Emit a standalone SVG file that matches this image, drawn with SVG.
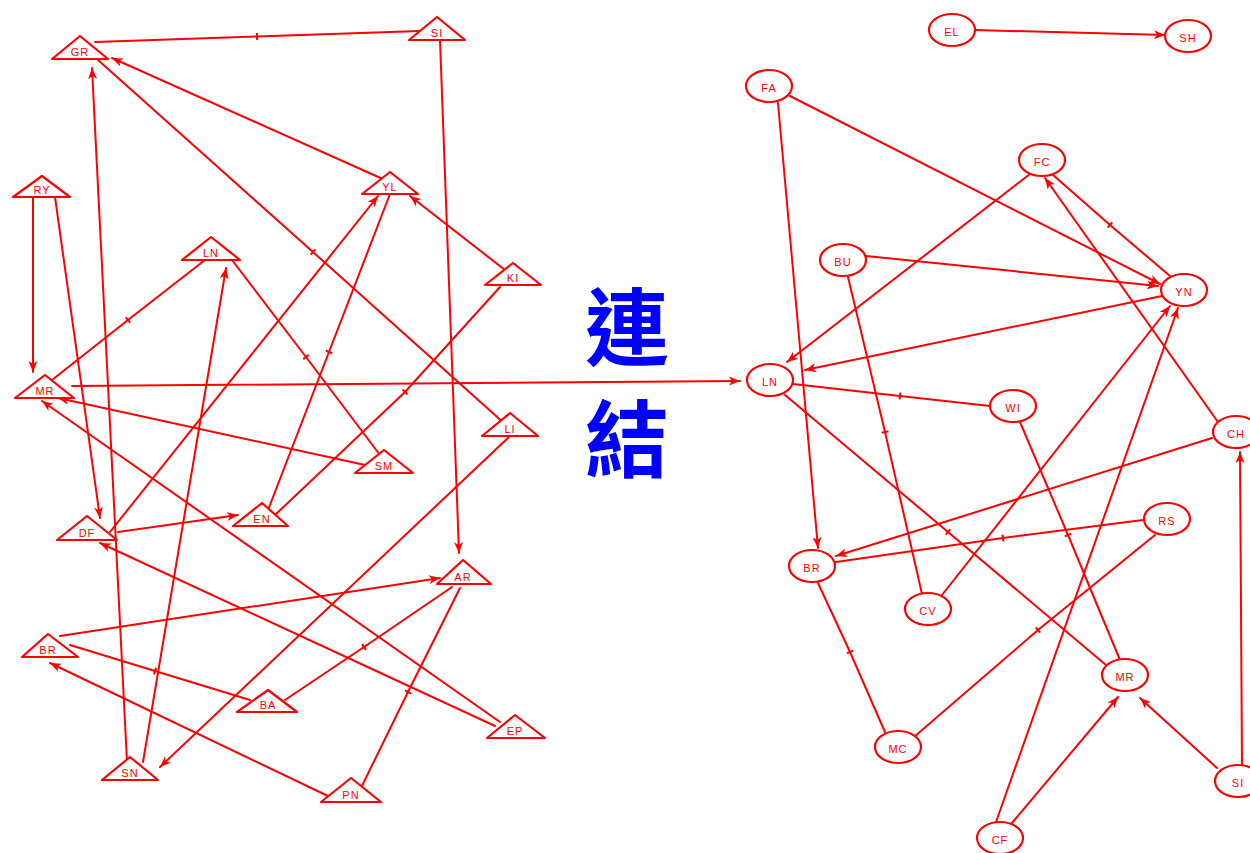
<svg xmlns="http://www.w3.org/2000/svg" width="1250" height="853" viewBox="0 0 1250 853">
<style>
.e{fill:none;stroke:#ff0000;stroke-width:2;stroke-linecap:round}
.a{marker-end:url(#arr)}
.t{marker-mid:url(#tick)}
.n polygon,.n ellipse{fill:#fff;stroke:#ff0000;stroke-width:2.2;stroke-linejoin:round}
.n text{font-family:"Liberation Sans",Arial,sans-serif;font-size:11px;fill:#ff0000;text-anchor:middle;letter-spacing:1px}
.big{font-family:"Noto Sans CJK TC","Noto Sans CJK SC",sans-serif;font-weight:700;font-size:84px;fill:#0000ff;text-anchor:middle}
</style>
<defs>
<marker id="arr" markerUnits="userSpaceOnUse" markerWidth="12" markerHeight="10" refX="11" refY="5" orient="auto">
<path d="M0,0.5 L11,5 L0,9.5 L3,5 Z" fill="#ff0000"/>
</marker>
<marker id="tick" markerUnits="userSpaceOnUse" markerWidth="10" markerHeight="10" refX="5" refY="5" orient="auto">
<path d="M5,1.5 L5,8.5" stroke="#ff0000" stroke-width="2"/>
</marker>
</defs>
<rect width="1250" height="853" fill="#fff"/>
<g id="connectors">
<path class="e t" d="M95,42 L257,36.5 L420,31"/>
<path class="e a" d="M440,40 L459,553"/>
<path class="e a" d="M385,180 L112,58"/>
<path class="e t" d="M98,60 L313,252 L505,424"/>
<path class="e a" d="M127,762 L92,68"/>
<path class="e a" d="M143,762 L226,268"/>
<path class="e a" d="M33,197 L33,372"/>
<path class="e a" d="M55,197 L100,518"/>
<path class="e t" d="M205,260 L128,320 L52,380"/>
<path class="e t" d="M232,260 L306,357 L380,455"/>
<path class="e t" d="M390,194 L329,352 L268,510"/>
<path class="e a" d="M110,532 L378,196"/>
<path class="e a" d="M505,270 L410,196"/>
<path class="e t" d="M500,287 L405,392 L275,515"/>
<path class="e a" d="M72,386 L740,381"/>
<path class="e a" d="M365,465 L58,398"/>
<path class="e a" d="M500,722 L42,401"/>
<path class="e a" d="M118,532 L238,515"/>
<path class="e a" d="M495,726 L100,543"/>
<path class="e a" d="M510,436 L160,767"/>
<path class="e a" d="M60,636 L440,578"/>
<path class="e t" d="M452,587 L364,647 L285,700"/>
<path class="e t" d="M70,645 L155,671 L250,700"/>
<path class="e a" d="M330,797 L50,663"/>
<path class="e t" d="M360,790 L408,692 L460,588"/>
<path class="e a" d="M975,30 L1165,35"/>
<path class="e a" d="M778,103 L818,548"/>
<path class="e a" d="M790,96 L1160,284"/>
<path class="e a" d="M1030,174 L787,362"/>
<path class="e t" d="M1053,175 L1110,225 L1170,276"/>
<path class="e a" d="M1218,422 L1045,178"/>
<path class="e a" d="M866,256 L1158,286"/>
<path class="e a" d="M1162,296 L805,370"/>
<path class="e t" d="M848,277 L885,432 L922,594"/>
<path class="e t" d="M793,384 L900,396 L990,406"/>
<path class="e t" d="M785,395 L948,532 L1106,665"/>
<path class="e t" d="M1020,422 L1068,535 L1120,660"/>
<path class="e a" d="M1212,438 L836,556"/>
<path class="e t" d="M1143,520 L1003,538 L836,562"/>
<path class="e a" d="M942,595 L1170,306"/>
<path class="e a" d="M996,822 L1178,308"/>
<path class="e t" d="M818,583 L850,652 L885,732"/>
<path class="e t" d="M1155,535 L1038,630 L914,737"/>
<path class="e a" d="M1012,823 L1118,697"/>
<path class="e a" d="M1217,768 L1140,698"/>
<path class="e a" d="M1242,765 L1240,452"/>
</g>
<g id="l-GR" class="n"><polygon points="80,36 52,59 108,59"/><text x="80" y="56">GR</text></g>
<g id="l-SI" class="n"><polygon points="437,17 409,40 465,40"/><text x="437" y="37">SI</text></g>
<g id="l-RY" class="n"><polygon points="42,176 13,197 70,197"/><text x="42" y="194">RY</text></g>
<g id="l-YL" class="n"><polygon points="390,172 362,194 418,194"/><text x="390" y="191">YL</text></g>
<g id="l-LN" class="n"><polygon points="211,237 182,260 240,260"/><text x="211" y="257">LN</text></g>
<g id="l-KI" class="n"><polygon points="513,263 485,285 541,285"/><text x="513" y="282">KI</text></g>
<g id="l-MR" class="n"><polygon points="45,375 15,398 74,398"/><text x="45" y="395">MR</text></g>
<g id="l-LI" class="n"><polygon points="510,413 482,436 538,436"/><text x="510" y="433">LI</text></g>
<g id="l-SM" class="n"><polygon points="384,450 355,473 413,473"/><text x="384" y="470">SM</text></g>
<g id="l-DF" class="n"><polygon points="87,516 57,540 117,540"/><text x="87" y="537">DF</text></g>
<g id="l-EN" class="n"><polygon points="262,503 233,526 288,526"/><text x="262" y="523">EN</text></g>
<g id="l-AR" class="n"><polygon points="463,560 437,584 491,584"/><text x="463" y="581">AR</text></g>
<g id="l-BR" class="n"><polygon points="48,634 22,657 78,657"/><text x="48" y="654">BR</text></g>
<g id="l-BA" class="n"><polygon points="268,690 237,712 297,712"/><text x="268" y="709">BA</text></g>
<g id="l-EP" class="n"><polygon points="515,715 487,738 545,738"/><text x="515" y="735">EP</text></g>
<g id="l-SN" class="n"><polygon points="130,757 102,780 158,780"/><text x="130" y="777">SN</text></g>
<g id="l-PN" class="n"><polygon points="351,778 321,802 381,802"/><text x="351" y="799">PN</text></g>
<g id="r-EL" class="n"><ellipse cx="952" cy="30" rx="23" ry="16"/><text x="952" y="36">EL</text></g>
<g id="r-SH" class="n"><ellipse cx="1188" cy="36" rx="23" ry="16"/><text x="1188" y="42">SH</text></g>
<g id="r-FA" class="n"><ellipse cx="769" cy="86" rx="23" ry="16"/><text x="769" y="92">FA</text></g>
<g id="r-FC" class="n"><ellipse cx="1042" cy="160" rx="23" ry="16"/><text x="1042" y="166">FC</text></g>
<g id="r-BU" class="n"><ellipse cx="843" cy="260" rx="23" ry="16"/><text x="843" y="266">BU</text></g>
<g id="r-YN" class="n"><ellipse cx="1184" cy="290" rx="23" ry="16"/><text x="1184" y="296">YN</text></g>
<g id="r-LN" class="n"><ellipse cx="770" cy="380" rx="23" ry="16"/><text x="770" y="386">LN</text></g>
<g id="r-WI" class="n"><ellipse cx="1013" cy="406" rx="23" ry="16"/><text x="1013" y="412">WI</text></g>
<g id="r-CH" class="n"><ellipse cx="1236" cy="432" rx="23" ry="16"/><text x="1236" y="438">CH</text></g>
<g id="r-RS" class="n"><ellipse cx="1167" cy="519" rx="23" ry="16"/><text x="1167" y="525">RS</text></g>
<g id="r-BR" class="n"><ellipse cx="812" cy="566" rx="23" ry="16"/><text x="812" y="572">BR</text></g>
<g id="r-CV" class="n"><ellipse cx="928" cy="609" rx="23" ry="16"/><text x="928" y="615">CV</text></g>
<g id="r-MR" class="n"><ellipse cx="1125" cy="675" rx="23" ry="16"/><text x="1125" y="681">MR</text></g>
<g id="r-MC" class="n"><ellipse cx="898" cy="747" rx="23" ry="16"/><text x="898" y="753">MC</text></g>
<g id="r-SI" class="n"><ellipse cx="1238" cy="781" rx="23" ry="16"/><text x="1238" y="787">SI</text></g>
<g id="r-CF" class="n"><ellipse cx="1000" cy="838" rx="23" ry="16"/><text x="1000" y="844">CF</text></g>
<g id="title">
<text class="big" x="627" y="359">連<tspan x="627" y="471">結</tspan></text>
</g>
</svg>
